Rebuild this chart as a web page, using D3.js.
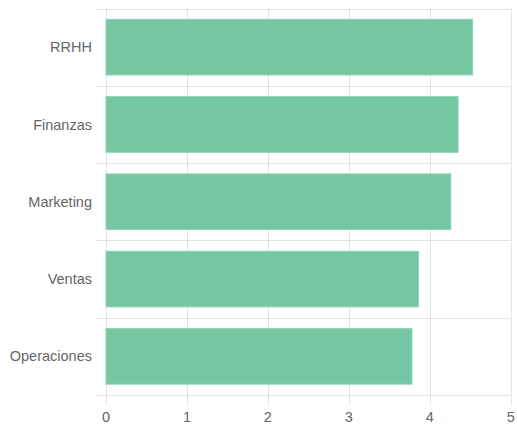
<!DOCTYPE html>
<html><head><meta charset="utf-8">
<script src="https://cdn.jsdelivr.net/npm/d3@7"></script>
<style>body{margin:0;background:#fff}svg{display:block}</style>
</head><body>
<script>
const categories = ["RRHH", "Finanzas", "Marketing", "Ventas", "Operaciones"];
const values = [4.53, 4.35, 4.26, 3.86, 3.78];
const xTicks = [0, 1, 2, 3, 4, 5];

const W = 517, H = 425;
const mLeft = 106, mRight = 510.7, mTop = 8.5, mBottom = 395;
const svg = d3.select("body").append("svg").attr("width", W).attr("height", H);
const x = d3.scaleLinear().domain([0, 5]).range([mLeft, mRight]);
const y = d3.scaleBand().domain(categories).range([mTop, mBottom]);
const grid = "rgba(0,0,0,0.1)";
const font = "'Liberation Sans', Arial, sans-serif";

// vertical grid
svg.append("g").selectAll("line").data(xTicks).join("line")
  .attr("x1", d => Math.round(x(d)) + 0.5).attr("x2", d => Math.round(x(d)) + 0.5)
  .attr("y1", mTop).attr("y2", mBottom + 10)
  .attr("stroke", grid).attr("stroke-width", 1);
// horizontal grid (band boundaries)
const hb = categories.map(c => y(c)).concat([mBottom]);
svg.append("g").selectAll("line").data(hb).join("line")
  .attr("x1", mLeft - 10).attr("x2", mRight)
  .attr("y1", d => Math.round(d) + 0.5).attr("y2", d => Math.round(d) + 0.5)
  .attr("stroke", grid).attr("stroke-width", 1);

// bars
const bw = y.bandwidth() * 0.8 * 0.9;
svg.append("g").selectAll("rect").data(categories).join("rect")
  .attr("x", x(0))
  .attr("y", d => y(d) + (y.bandwidth() - bw) / 2)
  .attr("width", (d, i) => x(values[i]) - x(0))
  .attr("height", bw)
  .attr("fill", "#75c7a3")
  .attr("stroke", "#8fd3b5").attr("stroke-width", 1);

// y labels
svg.append("g").selectAll("text").data(categories).join("text")
  .attr("x", 92).attr("y", d => y(d) + y.bandwidth() / 2)
  .attr("dy", "0.35em").attr("text-anchor", "end")
  .attr("font-family", font).attr("font-size", 14.5).attr("fill", "#666")
  .text(d => d);

// x labels
svg.append("g").selectAll("text").data(xTicks).join("text")
  .attr("x", d => x(d)).attr("y", 416.5).attr("dy", "0.35em")
  .attr("text-anchor", "middle")
  .attr("font-family", font).attr("font-size", 14.5).attr("fill", "#666")
  .text(d => d);
</script>
</body></html>
